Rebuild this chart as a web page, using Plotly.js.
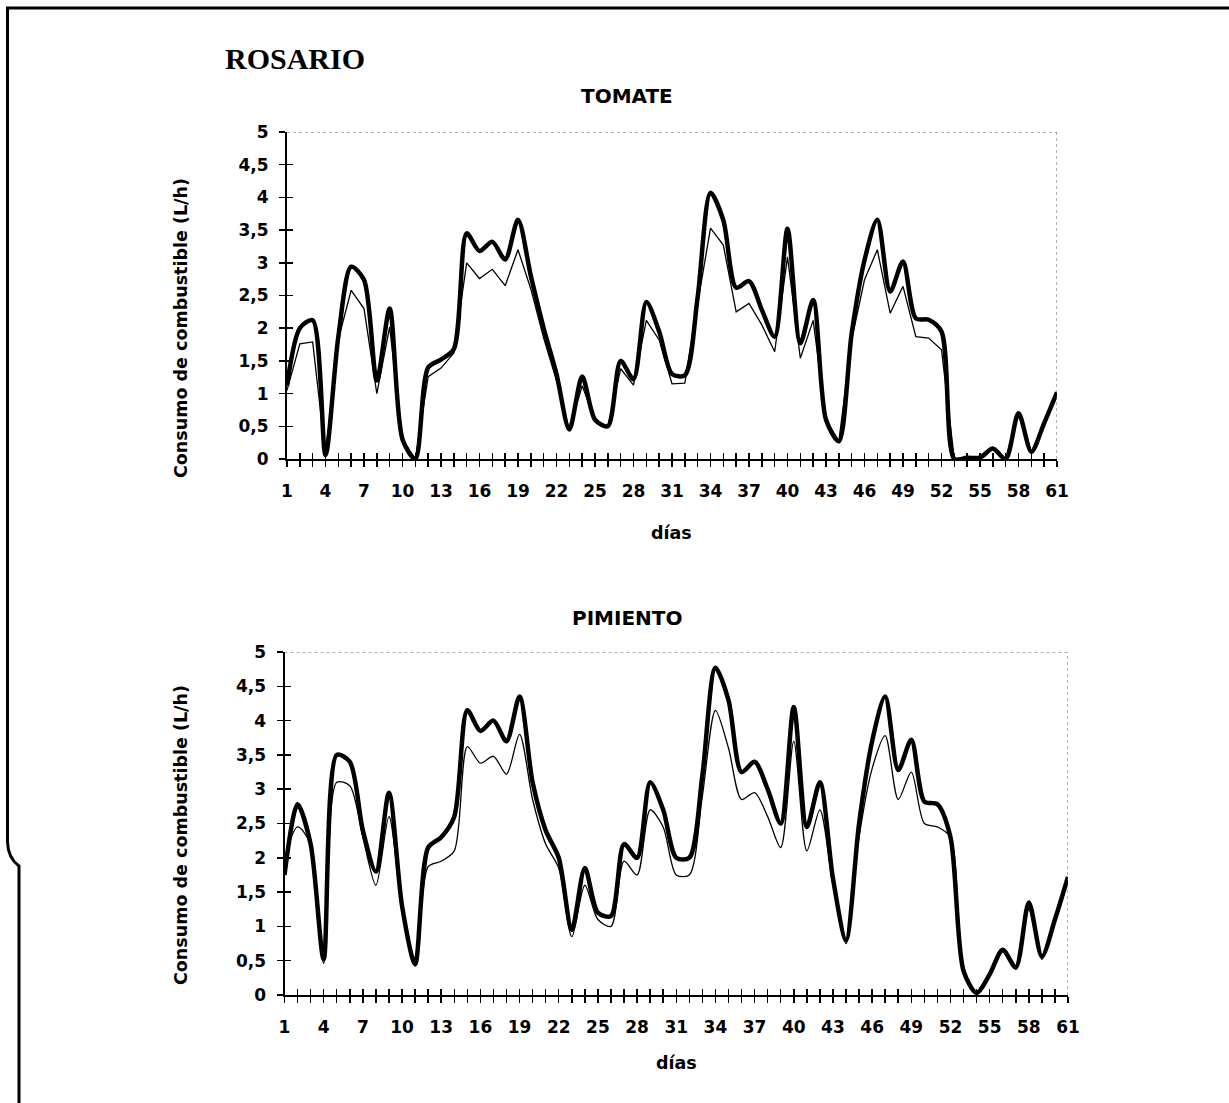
<!DOCTYPE html>
<html>
<head>
<meta charset="utf-8">
<script src="https://cdn.plot.ly/plotly-3.0.1.min.js"></script>
<style>
html,body{margin:0;padding:0;background:#fff;}
#chart{width:1229px;height:1103px;}
</style>
</head>
<body>
<div id="chart"></div>
<script>
// ---------- DATA ----------
const days = [1,2,3,4,5,6,7,8,9,10,11,12,13,14,15,16,17,18,19,20,21,22,23,24,25,26,27,28,29,30,
  31,32,33,34,35,36,37,38,39,40,41,42,43,44,45,46,47,48,49,50,51,52,53,54,55,56,57,58,59,60,61];

const dayTickText = ['1','','','4','','','7','','','10','','','13','','','16','','','19','','','22','','','25','','','28','','',
  '31','','','34','','','37','','','40','','','43','','','46','','','49','','','52','','','55','','','58','','','61'];

const yTickVals = [0,0.5,1,1.5,2,2.5,3,3.5,4,4.5,5];
const yTickText = ['0','0,5','1','1,5','2','2,5','3','3,5','4','4,5','5'];

// TOMATE
const tomateThick = [1.12,2.0,2.12,0.06,1.87,2.94,2.74,1.2,2.3,0.3,0.0,1.4,1.52,1.68,3.45,3.18,3.32,3.05,3.66,2.8,
  2.0,1.3,0.45,1.26,0.6,0.5,1.5,1.22,2.4,1.95,1.3,1.28,2.48,4.07,3.65,2.62,2.72,2.28,1.87,3.52,
  1.77,2.43,0.6,0.27,1.92,3.04,3.66,2.56,3.02,2.15,2.13,1.95,0.0,0.02,0.02,0.16,0.0,0.7,0.11,0.55,1.02];
const tomateThin = [1.05,1.76,1.79,0.06,1.83,2.58,2.3,1.0,2.02,0.3,0.0,1.26,1.39,1.62,3.0,2.76,2.9,2.65,3.2,2.6,
  1.85,1.2,0.45,1.12,0.6,0.5,1.38,1.13,2.12,1.82,1.15,1.16,2.38,3.53,3.27,2.25,2.38,2.05,1.64,3.09,
  1.54,2.12,0.6,0.27,1.82,2.74,3.2,2.23,2.64,1.87,1.85,1.67,0.0,0.02,0.02,0.16,0.0,0.7,0.11,0.55,1.02];

// PIMIENTO
const pimientoThick = [1.75,2.78,2.2,0.52,3.5,3.4,2.4,1.8,2.95,1.3,0.45,2.15,2.3,2.6,4.15,3.85,4.0,3.7,4.35,3.1,
  2.4,2.0,0.95,1.85,1.2,1.15,2.2,2.0,3.1,2.7,2.0,2.0,3.2,4.77,4.3,3.25,3.4,3.0,2.5,4.2,
  2.45,3.1,1.7,0.8,2.5,3.7,4.35,3.28,3.72,2.82,2.78,2.3,0.35,0.03,0.3,0.66,0.4,1.35,0.56,1.1,1.72];
const pimientoThin = [2.0,2.45,2.2,0.46,3.1,3.05,2.3,1.6,2.6,1.25,0.42,1.87,1.95,2.1,3.62,3.38,3.48,3.22,3.8,2.85,
  2.2,1.85,0.85,1.6,1.1,1.0,1.95,1.75,2.7,2.45,1.75,1.75,2.9,4.15,3.6,2.85,2.95,2.6,2.15,3.7,
  2.1,2.7,1.6,0.75,2.3,3.3,3.78,2.85,3.25,2.5,2.45,2.3,0.33,0.03,0.28,0.63,0.38,1.25,0.52,1.05,1.7];

// ---------- LAYOUT HELPERS ----------
const W = 1229, H = 1103;
const PX = v => v / W;
const PY = v => 1 - v / H;

const tickFont = {family: 'DejaVu Sans', size: 17, color: '#000', weight: 'bold'};

function xAxisMain(domain, anchor) {
  return {
    domain: domain, anchor: anchor, range: [1, 61],
    tickmode: 'array', tickvals: days, ticktext: dayTickText,
    ticks: 'outside', ticklen: 6, tickwidth: 1.5, tickcolor: '#000',
    ticklabelstandoff: 10,
    showline: true, linecolor: '#000', linewidth: 2,
    showgrid: false, zeroline: false, tickfont: tickFont, fixedrange: true
  };
}
function xAxisOverlay(over, anchor) {
  return {
    overlaying: over, anchor: anchor, range: [1, 61],
    tickmode: 'array', tickvals: days,
    ticks: 'inside', ticklen: 6, tickwidth: 1.5, tickcolor: '#000',
    showticklabels: false, showline: false, showgrid: false, zeroline: false
  };
}
function yAxisMain(domain, anchor) {
  return {
    domain: domain, anchor: anchor, range: [0, 5],
    tickmode: 'array', tickvals: yTickVals, ticktext: yTickText,
    ticks: 'outside', ticklen: 6, tickwidth: 1.5, tickcolor: '#000',
    ticklabelstandoff: 7,
    showline: true, linecolor: '#000', linewidth: 2,
    showgrid: false, zeroline: false, tickfont: tickFont, fixedrange: true
  };
}
function yAxisOverlay(over, anchor) {
  return {
    overlaying: over, anchor: anchor, range: [0, 5],
    tickmode: 'array', tickvals: yTickVals,
    ticks: 'inside', ticklen: 6, tickwidth: 1.5, tickcolor: '#000',
    showticklabels: false, showline: false, showgrid: false, zeroline: false
  };
}

const traces = [
  {x: days, y: tomateThin, xaxis: 'x', yaxis: 'y', mode: 'lines', line: {color: '#000', width: 1.3, shape: 'linear'}, showlegend: false, hoverinfo: 'skip'},
  {x: days, y: tomateThick, xaxis: 'x', yaxis: 'y', mode: 'lines', line: {color: '#000', width: 4.5, shape: 'spline', smoothing: 0.8}, showlegend: false, hoverinfo: 'skip'},
  {x: days, y: pimientoThin, xaxis: 'x2', yaxis: 'y2', mode: 'lines', line: {color: '#000', width: 1.3, shape: 'spline', smoothing: 0.8}, showlegend: false, hoverinfo: 'skip'},
  {x: days, y: pimientoThick, xaxis: 'x2', yaxis: 'y2', mode: 'lines', line: {color: '#000', width: 4.5, shape: 'spline', smoothing: 0.8}, showlegend: false, hoverinfo: 'skip'},
  // empty traces so overlay axes (crossing tick halves) are drawn
  {x: [], y: [], xaxis: 'x3', yaxis: 'y', showlegend: false, hoverinfo: 'skip'},
  {x: [], y: [], xaxis: 'x', yaxis: 'y3', showlegend: false, hoverinfo: 'skip'},
  {x: [], y: [], xaxis: 'x4', yaxis: 'y2', showlegend: false, hoverinfo: 'skip'},
  {x: [], y: [], xaxis: 'x2', yaxis: 'y4', showlegend: false, hoverinfo: 'skip'}
];

const topX = [PX(287), PX(1057)], topY = [PY(459), PY(132)];
const botX = [PX(284.5), PX(1068)], botY = [PY(995), PY(652)];

const titleFont = {family: 'DejaVu Sans', size: 20, color: '#000', weight: 'bold'};
const axisTitleFont = {family: 'DejaVu Sans', size: 17.5, color: '#000', weight: 'bold'};

const framePath = 'M ' + PX(7.5) + ',' + PY(8) + ' L ' + PX(7.5) + ',' + PY(842) +
  ' Q ' + PX(8) + ',' + PY(858) + ' ' + PX(19) + ',' + PY(866) + ' L ' + PX(19) + ',' + PY(1103);

const layout = {
  width: W, height: H,
  margin: {l: 0, r: 0, t: 0, b: 0, pad: 0},
  paper_bgcolor: '#fff', plot_bgcolor: '#fff',
  separators: ',.',
  showlegend: false,
  xaxis: xAxisMain(topX, 'y'),
  yaxis: yAxisMain(topY, 'x'),
  xaxis2: xAxisMain(botX, 'y2'),
  yaxis2: yAxisMain(botY, 'x2'),
  xaxis3: xAxisOverlay('x', 'y'),
  yaxis3: yAxisOverlay('y', 'x'),
  xaxis4: xAxisOverlay('x2', 'y2'),
  yaxis4: yAxisOverlay('y2', 'x2'),
  shapes: [
    // plot area borders (top & right), thin dotted grey
    {type: 'line', xref: 'x', yref: 'y', x0: 1, x1: 61, y0: 5, y1: 5, line: {color: '#666', width: 1, dash: 'dot'}},
    {type: 'line', xref: 'x', yref: 'y', x0: 61, x1: 61, y0: 0, y1: 5, line: {color: '#666', width: 1, dash: 'dot'}},
    {type: 'line', xref: 'x2', yref: 'y2', x0: 1, x1: 61, y0: 5, y1: 5, line: {color: '#666', width: 1, dash: 'dot'}},
    {type: 'line', xref: 'x2', yref: 'y2', x0: 61, x1: 61, y0: 0, y1: 5, line: {color: '#666', width: 1, dash: 'dot'}},
    // page frame
    {type: 'line', xref: 'paper', yref: 'paper', x0: PX(6), x1: PX(1229), y0: PY(8), y1: PY(8), line: {color: '#000', width: 3}},
    {type: 'path', xref: 'paper', yref: 'paper', path: framePath, line: {color: '#000', width: 3}}
  ],
  annotations: [
    {xref: 'paper', yref: 'paper', x: PX(294.5), y: PY(58), xanchor: 'center', yanchor: 'middle', showarrow: false,
      text: '<b>ROSARIO</b>', font: {family: 'Liberation Serif', size: 30, color: '#000'}},
    {xref: 'paper', yref: 'paper', x: PX(627), y: PY(96), xanchor: 'center', yanchor: 'middle', showarrow: false,
      text: 'TOMATE', font: titleFont},
    {xref: 'paper', yref: 'paper', x: PX(627), y: PY(618), xanchor: 'center', yanchor: 'middle', showarrow: false,
      text: 'PIMIENTO', font: titleFont},
    {xref: 'paper', yref: 'paper', x: PX(671), y: PY(533), xanchor: 'center', yanchor: 'middle', showarrow: false,
      text: 'días', font: axisTitleFont},
    {xref: 'paper', yref: 'paper', x: PX(676), y: PY(1063), xanchor: 'center', yanchor: 'middle', showarrow: false,
      text: 'días', font: axisTitleFont},
    {xref: 'paper', yref: 'paper', x: PX(181), y: PY(328), xanchor: 'center', yanchor: 'middle', showarrow: false,
      textangle: -90, text: 'Consumo de combustible (L/h)', font: axisTitleFont},
    {xref: 'paper', yref: 'paper', x: PX(181), y: PY(835), xanchor: 'center', yanchor: 'middle', showarrow: false,
      textangle: -90, text: 'Consumo de combustible (L/h)', font: axisTitleFont}
  ]
};

Plotly.newPlot('chart', traces, layout, {staticPlot: true, displayModeBar: false});
</script>
</body>
</html>
